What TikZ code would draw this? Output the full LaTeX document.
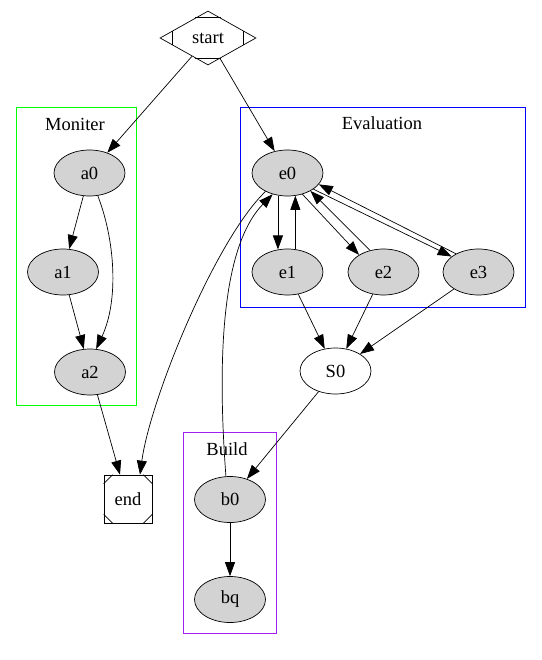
\documentclass[tikz,border=0pt]{standalone}
\usepackage{fontspec}
\setmainfont{Liberation Serif}
\usetikzlibrary{shapes.geometric,arrows.meta,calc}
\definecolor{gvgray}{RGB}{211,211,211}
\definecolor{gvgreen}{RGB}{0,255,0}
\definecolor{gvblue}{RGB}{0,0,255}
\definecolor{gvpurple}{RGB}{160,32,240}
\begin{document}
\begin{tikzpicture}[x=1pt,y=-1pt,
  every node/.style={font=\fontsize{18.5}{20}\selectfont},
  gnode/.style={ellipse,draw,fill=gvgray,minimum width=71pt,minimum height=46pt,inner sep=0pt,line width=0.7pt},
  wnode/.style={gnode,fill=white},
  arr/.style={-{Triangle[length=14pt,width=10pt]},line width=0.7pt},
  ln/.style={line width=0.7pt},
  cl/.style={line width=1pt},
  lbl/.style={inner sep=0pt}
]
\useasboundingbox (0,0) rectangle (541,660);
\fill[white] (0,0) rectangle (541,660);
% clusters
\draw[cl,gvgreen] (16.5,107.5) rectangle (136.5,405.5);
\draw[cl,gvblue] (240.5,107.5) rectangle (525.5,307.5);
\draw[cl,gvpurple] (183.5,432.5) rectangle (276.5,633.5);
\node[lbl] (lm) at (75,124) {Moniter};
\node[lbl] (le) at (382,123) {Evaluation};
\node[lbl] (lb) at (227,449) {Build};
% nodes
\node[diamond,draw,aspect=1.78,minimum width=96pt,minimum height=54pt,inner sep=0pt,line width=0.7pt] (start) at (208,38) {start};
\draw[ln] ($(start.north)!0.26!(start.west)$) -- ($(start.north)!0.26!(start.east)$);
\draw[ln] ($(start.south)!0.26!(start.west)$) -- ($(start.south)!0.26!(start.east)$);
\draw[ln] ($(start.west)!0.26!(start.north)$) -- ($(start.west)!0.26!(start.south)$);
\draw[ln] ($(start.east)!0.26!(start.north)$) -- ($(start.east)!0.26!(start.south)$);
\node[gnode] (a0) at (89.5,173) {a0};
\node[gnode] (a1) at (63,272) {a1};
\node[gnode] (a2) at (90,372) {a2};
\node[gnode] (e0) at (287.5,173) {e0};
\node[gnode] (e1) at (287.5,272) {e1};
\node[gnode] (e2) at (383.5,272) {e2};
\node[gnode] (e3) at (478.5,272) {e3};
\node[wnode] (S0) at (335.5,371) {S0};
\node[gnode] (b0) at (230,499.5) {b0};
\node[gnode] (bq) at (230,599.5) {bq};
\node[draw,ln,minimum width=48pt,minimum height=48pt,inner sep=0pt] (end) at (128,499) {end};
\draw[ln] ($(end.north west)+(9,0)$) -- ($(end.north west)+(0,9)$);
\draw[ln] ($(end.north east)+(-9,0)$) -- ($(end.north east)+(0,9)$);
\draw[ln] ($(end.south west)+(9,0)$) -- ($(end.south west)+(0,-9)$);
\draw[ln] ($(end.south east)+(-9,0)$) -- ($(end.south east)+(0,-9)$);
% edges
\draw[arr] (start) -- (a0);
\draw[arr] (start) -- (e0);
\draw[arr] (a0) -- (a1);
\draw[arr] (a0.-70) .. controls (115,240) and (119,300) .. (a2.75);
\draw[arr] (a1) -- (a2);
\draw[arr] (a2.-72) -- ($(end.north)+(-8,0)$);
\draw[arr] (e0.-140) .. controls (215,240) and (150,400) .. ($(end.north)+(12,0)$);
\draw[arr] (b0.100) .. controls (215,330) and (228,240) .. (e0.-125);
\draw[arr] (e0.-113) -- (e1.113);
\draw[arr] (e1.71.5) -- (e0.-71.5);
\draw[arr] (e0.-55) -- (e2.145);
\draw[arr] (e2.122) -- (e0.-38);
\draw[arr] (e0.-32) -- (e3.150);
\draw[arr] (e3.141.7) -- (e0.-20);
\draw[arr] (e1) -- (S0);
\draw[arr] (e2) -- (S0);
\draw[arr] (e3) -- (S0);
\draw[arr] (S0) -- (b0);
\draw[arr] (b0) -- (bq);
\end{tikzpicture}
\end{document}
